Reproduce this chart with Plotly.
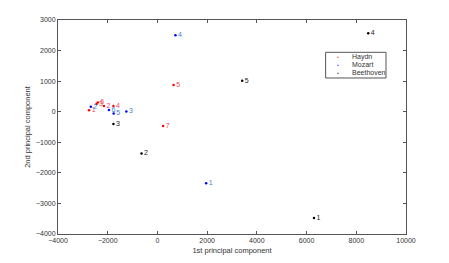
import plotly.graph_objects as go

haydn_x = [-2750, -2150, -2450, -1770, 650, -2400, 230]
haydn_y = [50, 185, 250, 185, 870, 300, -470]
haydn_lbl = ["1", "2", "3", "4", "5", "6", "7"]

mozart_x = [1960, -2680, -1250, 725, -1760, -1950]
mozart_y = [-2340, 160, 10, 2500, -55, 55]
mozart_lbl = ["1", "2", "3", "4", "5", "6"]

beet_x = [6300, -640, -1770, 8480, 3410]
beet_y = [-3480, -1370, -400, 2565, 1010]
beet_lbl = ["1", "2", "3", "4", "5"]

series = [
    ("Haydn", haydn_x, haydn_y, haydn_lbl, "#ff0000", "#e8485a"),
    ("Mozart", mozart_x, mozart_y, mozart_lbl, "#0000ff", "#3a84e0"),
    ("Beethoven", beet_x, beet_y, beet_lbl, "#000000", "#222222"),
]

fig = go.Figure()
for name, xs, ys, lbl, mc, tc in series:
    fig.add_trace(go.Scatter(
        x=xs, y=ys, mode="markers+text", name=name, text=lbl,
        textposition="middle right",
        textfont=dict(size=7, color=tc, family="Liberation Sans"),
        marker=dict(size=2.5, color=mc),
        showlegend=False,
    ))

axis_common = dict(
    showline=True, linecolor="#555555", linewidth=1, mirror="ticks",
    ticks="inside", ticklen=3, tickcolor="#555555",
    showgrid=False, zeroline=False, automargin=False,
    tickfont=dict(size=7, color="#333333", family="Liberation Sans"),
)

# compact legend drawn as box + text (plotly legends have a large minimum row height)
leg_x0, leg_x1, leg_y0, leg_y1 = 0.769, 0.9425, 0.729, 0.849
leg_rows = [0.827, 0.790, 0.754]
shapes = [dict(type="rect", xref="paper", yref="paper",
               x0=leg_x0, x1=leg_x1, y0=leg_y0, y1=leg_y1,
               line=dict(color="#555555", width=1), fillcolor="white")]
annotations = []
for (name, xs, ys, lbl, mc, tc), ry in zip(series, leg_rows):
    annotations.append(dict(xref="paper", yref="paper", x=0.805, y=ry,
                            text="●", showarrow=False, xanchor="center", yanchor="middle",
                            font=dict(size=3, color=mc)))
    annotations.append(dict(xref="paper", yref="paper", x=0.839, y=ry,
                            text=name, showarrow=False, xanchor="left", yanchor="middle",
                            font=dict(size=7, color="#333333", family="Liberation Sans")))

fig.update_layout(
    width=441, height=255,
    margin=dict(l=50, r=43, t=12, b=29),
    paper_bgcolor="white", plot_bgcolor="white",
    font=dict(family="Liberation Sans", size=7, color="#333333"),
    xaxis=dict(range=[-4000, 10000], dtick=2000, tickformat="d",
               title=dict(text="1st principal component", font=dict(size=7.5), standoff=4),
               **axis_common),
    yaxis=dict(range=[-4000, 3000], dtick=1000, tickformat="d",
               title=dict(text="2nd principal component", font=dict(size=7.5), standoff=4),
               **axis_common),
    shapes=shapes,
    annotations=annotations,
    showlegend=False,
)

fig.write_html("out.html")
